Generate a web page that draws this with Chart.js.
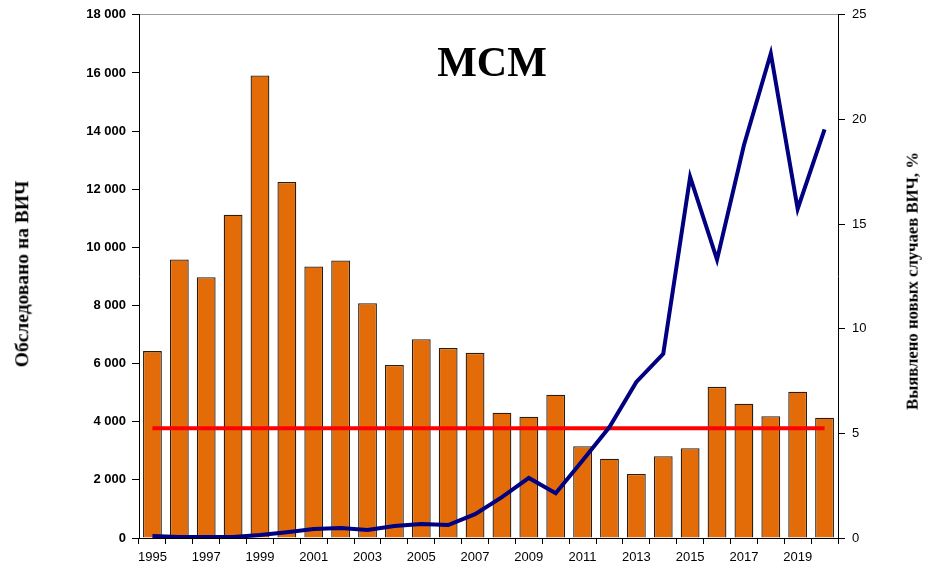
<!DOCTYPE html>
<html>
<head>
<meta charset="utf-8">
<script src="https://cdn.jsdelivr.net/npm/chart.js@4.4.1/dist/chart.umd.min.js"></script>
<style>
  html,body{margin:0;padding:0;background:#fff;}
  #wrap{position:relative;width:932px;height:565px;}
  #title{position:absolute;left:392px;top:38px;width:200px;text-align:center;font:bold 42px "Liberation Serif","Times New Roman",serif;color:#000;}
  .vt{position:absolute;transform:translate(-50%,-50%) rotate(-90deg);white-space:nowrap;font-family:"Liberation Serif","Times New Roman",serif;font-weight:bold;color:#000;line-height:1;}
  #ltitle{left:22px;top:274px;font-size:19.5px;}
  #rtitle{left:913px;top:281px;font-size:16.7px;}
</style>
</head>
<body>
<div id="wrap">
  <canvas id="c" width="932" height="565"></canvas>
  <div id="title">МСМ</div>
  <div id="ltitle" class="vt">Обследовано на ВИЧ</div>
  <div id="rtitle" class="vt">Выявлено новых случаев ВИЧ, %</div>
</div>
<script>
const years = ['1995','1996','1997','1998','1999','2000','2001','2002','2003','2004','2005','2006','2007',
  '2008','2009','2010','2011','2012','2013','2014','2015','2016','2017','2018','2019','2020'];
// обследовано на ВИЧ
const tested = [6430,9580,8970,11120,15910,12250,9340,9550,8080,5950,6840,6540,6370,
  4310,4170,4930,3160,2730,2200,2810,3090,5200,4620,4190,5030,4140];
// выявлено новых случаев, %
const detected = [0.1,0.05,0.05,0.05,0.14,0.28,0.43,0.48,0.38,0.57,0.67,0.62,1.14,
  1.95,2.87,2.14,3.7,5.3,7.46,8.8,17.25,13.3,18.77,23.15,15.73,19.53];
const redLevel = 5.24;
const levelLine = years.map(()=>redLevel);

const fmt = v => String(v).replace(/\B(?=(\d{3})+(?!\d))/g,' ');

new Chart(document.getElementById('c'), {
  type:'bar',
  data:{
    labels:years,
    datasets:[
      {type:'line',data:detected,yAxisID:'y2',borderColor:'#000080',borderWidth:4,pointRadius:0,tension:0,order:0},
      {type:'line',data:levelLine,yAxisID:'y2',borderColor:'#FF0000',borderWidth:4,pointRadius:0,order:1},
      {type:'bar',data:tested,yAxisID:'y',backgroundColor:'#E36C09',borderColor:'#2a1e12',borderWidth:1.3,
        barPercentage:0.7,categoryPercentage:1,order:2}
    ]
  },
  options:{
    responsive:false,animation:false,
    layout:{padding:{top:12,left:0,right:0,bottom:0}},
    plugins:{legend:{display:false},tooltip:{enabled:false}},
    scales:{
      x:{
        grid:{display:true,drawOnChartArea:false,tickLength:6,color:'#000',offset:true},
        border:{color:'#000',width:1},
        ticks:{autoSkip:false,maxRotation:0,padding:6,color:'#000',font:{family:'Liberation Sans, Arial',size:13},
          callback:(v,i)=> i%2===0 ? years[i] : ''},
        afterFit:s=>{s.height=27;}
      },
      y:{
        position:'left',min:0,max:18000,
        grid:{drawOnChartArea:true,tickLength:7,tickColor:'#000',
          color:c=> c.tick && c.tick.value===18000 ? '#999' : 'rgba(0,0,0,0)'},
        border:{color:'#000',width:1},
        ticks:{stepSize:2000,padding:6,color:'#000',font:{family:'Liberation Sans, Arial',size:13,weight:'bold'},
          callback:v=>fmt(v)},
        afterFit:s=>{s.width=139;}
      },
      y2:{
        position:'right',min:0,max:25,
        grid:{drawOnChartArea:false,tickLength:7,color:'#000'},
        border:{color:'#000',width:1},
        ticks:{stepSize:5,padding:7,color:'#000',font:{family:'Liberation Sans, Arial',size:13}},
        afterFit:s=>{s.width=94;}
      }
    }
  }
});
</script>
</body>
</html>
